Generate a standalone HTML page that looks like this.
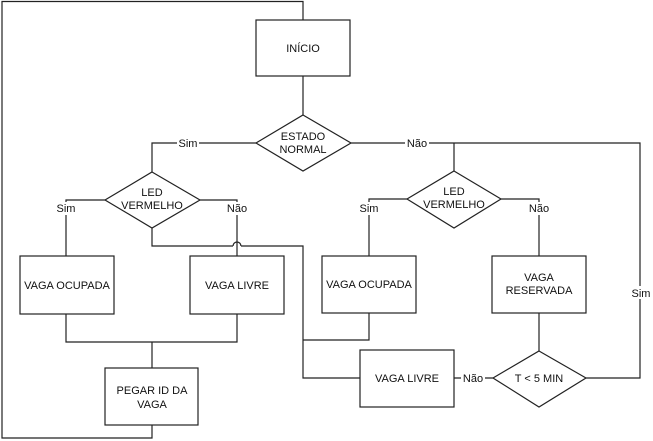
<!DOCTYPE html>
<html><head><meta charset="utf-8"><style>
html,body{margin:0;padding:0;background:#fff;}
svg{display:block;}
text{font-family:"Liberation Sans",Arial,sans-serif;font-size:11px;fill:#111;}
</style></head><body>
<svg width="653" height="441" viewBox="0 0 653 441" xmlns="http://www.w3.org/2000/svg">
<g fill="none" stroke="#222" stroke-width="1.2">
<!-- loop -->
<polyline points="303,20 303,1.5 2,1.5 2,438 152,438 152,425"/>
<rect x="256" y="20" width="94" height="56" fill="#fff"/>
<line x1="303" y1="76" x2="303" y2="115"/>
<polygon points="303,115 351,143 303,171 256,143" fill="#fff"/>
<!-- left branch -->
<polyline points="256,143 152,143 152,172"/>
<polygon points="152,172 200,200 152,228 105,200" fill="#fff"/>
<polyline points="105,200 66,200 66,256"/>
<polyline points="200,200 237,200 237,256"/>
<polyline points="152,228 152,246 233,246"/>
<path d="M233,246 A4,4 0 0 1 241,246"/>
<polyline points="241,246 303,246 303,378 360,378"/>
<rect x="20" y="256" width="94" height="58" fill="#fff"/>
<rect x="190" y="256" width="94" height="58" fill="#fff"/>
<polyline points="66,314 66,342 237,342 237,314"/>
<line x1="152" y1="342" x2="152" y2="368"/>
<rect x="105" y="368" width="93" height="57" fill="#fff"/>
<!-- right branch -->
<polyline points="351,143 640,143 640,378 586,378"/>
<line x1="454" y1="143" x2="454" y2="171"/>
<polygon points="454,171 501,199 454,228 407,199" fill="#fff"/>
<polyline points="407,199 369,199 369,256"/>
<polyline points="501,199 539,199 539,256"/>
<rect x="322" y="256" width="94" height="57" fill="#fff"/>
<rect x="492" y="256" width="94" height="57" fill="#fff"/>
<polyline points="369,313 369,340 303,340"/>
<line x1="539" y1="313" x2="539" y2="351"/>
<polygon points="539,351 586,378 539,407 493,378" fill="#fff"/>
<line x1="493" y1="378" x2="454" y2="378"/>
<rect x="360" y="350" width="94" height="57" fill="#fff"/>
</g>
<g text-anchor="middle">
<text x="303" y="52">INÍCIO</text>
<text x="303" y="140">ESTADO</text>
<text x="303" y="153">NORMAL</text>
<text x="152" y="196">LED</text>
<text x="152" y="209">VERMELHO</text>
<text x="454" y="195">LED</text>
<text x="454" y="208">VERMELHO</text>
<text x="67" y="289">VAGA OCUPADA</text>
<text x="237" y="289">VAGA LIVRE</text>
<text x="369" y="288">VAGA OCUPADA</text>
<text x="539" y="281">VAGA</text>
<text x="539" y="294">RESERVADA</text>
<text x="152" y="394">PEGAR ID DA</text>
<text x="152" y="408">VAGA</text>
<text x="407" y="382">VAGA LIVRE</text>
<text x="539" y="382">T &lt; 5 MIN</text>
</g>
<g text-anchor="middle">
<rect x="177" y="136" width="22" height="13" fill="#fff"/>
<text x="188" y="147">Sim</text>
<rect x="405" y="136" width="24" height="13" fill="#fff"/>
<text x="417" y="147">Não</text>
<rect x="55" y="202" width="22" height="13" fill="#fff"/>
<text x="66" y="212">Sim</text>
<rect x="226" y="202" width="22" height="13" fill="#fff"/>
<text x="237" y="212">Não</text>
<rect x="358" y="202" width="22" height="13" fill="#fff"/>
<text x="369" y="212">Sim</text>
<rect x="528" y="202" width="22" height="13" fill="#fff"/>
<text x="539" y="212">Não</text>
<rect x="630" y="286" width="22" height="13" fill="#fff"/>
<text x="641" y="297">Sim</text>
<rect x="461" y="371" width="24" height="13" fill="#fff"/>
<text x="473" y="382">Não</text>
</g>
</svg>
</body></html>
